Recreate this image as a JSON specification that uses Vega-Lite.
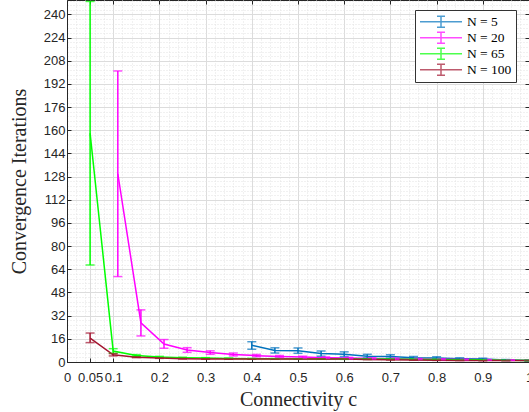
{
  "$schema": "https://vega.github.io/schema/vega-lite/v6.json",
  "width": 462,
  "height": 362,
  "autosize": "none",
  "padding": {"left": 67, "top": 0, "right": 0, "bottom": 50},
  "background": "white",
  "config": {
    "view": {"stroke": "#262626", "strokeWidth": 1},
    "axis": {"labelFont": "Liberation Sans", "labelFontSize": 13, "labelColor": "#262626", "titleColor": "#262626", "titleFont": "Liberation Serif", "titleFontWeight": "normal", "titleFontSize": 20, "domainColor": "#262626", "tickColor": "#262626"}
  },
  "data": {
    "values": [
      {"series": "N = 5", "c": 0.4, "iter": 11.5, "lo": 8.8, "hi": 14},
      {"series": "N = 5", "c": 0.45, "iter": 8, "lo": 6.2, "hi": 9.8},
      {"series": "N = 5", "c": 0.5, "iter": 7.8, "lo": 6, "hi": 9.7},
      {"series": "N = 5", "c": 0.55, "iter": 5.8, "lo": 4, "hi": 7.6},
      {"series": "N = 5", "c": 0.6, "iter": 5.4, "lo": 3.8, "hi": 7},
      {"series": "N = 5", "c": 0.65, "iter": 4, "lo": 2.7, "hi": 5.3},
      {"series": "N = 5", "c": 0.7, "iter": 3.8, "lo": 2.6, "hi": 5},
      {"series": "N = 5", "c": 0.75, "iter": 3, "lo": 2.2, "hi": 3.8},
      {"series": "N = 5", "c": 0.8, "iter": 2.8, "lo": 2, "hi": 3.6},
      {"series": "N = 5", "c": 0.85, "iter": 2.3, "lo": 1.7, "hi": 2.9},
      {"series": "N = 5", "c": 0.9, "iter": 2, "lo": 1.4, "hi": 2.6},
      {"series": "N = 5", "c": 0.95, "iter": 1.4, "lo": 1.1, "hi": 1.7},
      {"series": "N = 5", "c": 1, "iter": 1, "lo": 1, "hi": 1},
      {"series": "N = 20", "c": 0.11, "iter": 130, "lo": 59, "hi": 201},
      {"series": "N = 20", "c": 0.16, "iter": 27, "lo": 18, "hi": 36},
      {"series": "N = 20", "c": 0.21, "iter": 12.4, "lo": 9.5, "hi": 15.5},
      {"series": "N = 20", "c": 0.26, "iter": 8.3, "lo": 6.7, "hi": 9.9},
      {"series": "N = 20", "c": 0.31, "iter": 6.5, "lo": 5.3, "hi": 7.7},
      {"series": "N = 20", "c": 0.36, "iter": 5.2, "lo": 4.2, "hi": 6.2},
      {"series": "N = 20", "c": 0.41, "iter": 4.4, "lo": 3.6, "hi": 5.2},
      {"series": "N = 20", "c": 0.46, "iter": 3.8, "lo": 3.1, "hi": 4.5},
      {"series": "N = 20", "c": 0.51, "iter": 3.4, "lo": 2.8, "hi": 4},
      {"series": "N = 20", "c": 0.56, "iter": 3, "lo": 2.5, "hi": 3.5},
      {"series": "N = 20", "c": 0.61, "iter": 2.7, "lo": 2.2, "hi": 3.2},
      {"series": "N = 20", "c": 0.66, "iter": 2.5, "lo": 2.1, "hi": 2.9},
      {"series": "N = 20", "c": 0.71, "iter": 2.3, "lo": 1.9, "hi": 2.7},
      {"series": "N = 20", "c": 0.76, "iter": 2.1, "lo": 1.8, "hi": 2.4},
      {"series": "N = 20", "c": 0.81, "iter": 1.9, "lo": 1.6, "hi": 2.2},
      {"series": "N = 20", "c": 0.86, "iter": 1.7, "lo": 1.5, "hi": 1.9},
      {"series": "N = 20", "c": 0.91, "iter": 1.5, "lo": 1.3, "hi": 1.7},
      {"series": "N = 20", "c": 0.96, "iter": 1.3, "lo": 1.1, "hi": 1.5},
      {"series": "N = 65", "c": 0.05, "iter": 158, "lo": 67, "hi": 249},
      {"series": "N = 65", "c": 0.1, "iter": 7.6, "lo": 6, "hi": 9.2},
      {"series": "N = 65", "c": 0.15, "iter": 4.5, "lo": 3.9, "hi": 5.1},
      {"series": "N = 65", "c": 0.2, "iter": 3.5, "lo": 3.1, "hi": 3.9},
      {"series": "N = 65", "c": 0.25, "iter": 3, "lo": 2.7, "hi": 3.3},
      {"series": "N = 65", "c": 0.3, "iter": 2.7, "lo": 2.4, "hi": 3},
      {"series": "N = 65", "c": 0.35, "iter": 2.5, "lo": 2.2, "hi": 2.8},
      {"series": "N = 65", "c": 0.4, "iter": 2.3, "lo": 2.1, "hi": 2.5},
      {"series": "N = 65", "c": 0.45, "iter": 2.2, "lo": 2, "hi": 2.4},
      {"series": "N = 65", "c": 0.5, "iter": 2.1, "lo": 1.9, "hi": 2.3},
      {"series": "N = 65", "c": 0.55, "iter": 2.05, "lo": 1.9, "hi": 2.2},
      {"series": "N = 65", "c": 0.6, "iter": 2, "lo": 1.85, "hi": 2.15},
      {"series": "N = 65", "c": 0.65, "iter": 2, "lo": 1.85, "hi": 2.15},
      {"series": "N = 65", "c": 0.7, "iter": 2, "lo": 1.85, "hi": 2.15},
      {"series": "N = 65", "c": 0.75, "iter": 1.9, "lo": 1.8, "hi": 2},
      {"series": "N = 65", "c": 0.8, "iter": 1.8, "lo": 1.7, "hi": 1.9},
      {"series": "N = 65", "c": 0.85, "iter": 1.6, "lo": 1.5, "hi": 1.7},
      {"series": "N = 65", "c": 0.9, "iter": 1.5, "lo": 1.4, "hi": 1.6},
      {"series": "N = 65", "c": 0.95, "iter": 1.2, "lo": 1.1, "hi": 1.3},
      {"series": "N = 65", "c": 1, "iter": 1, "lo": 1, "hi": 1},
      {"series": "N = 100", "c": 0.05, "iter": 16.5, "lo": 13.4, "hi": 20},
      {"series": "N = 100", "c": 0.1, "iter": 5, "lo": 4.2, "hi": 5.8},
      {"series": "N = 100", "c": 0.15, "iter": 3.3, "lo": 3, "hi": 3.6},
      {"series": "N = 100", "c": 0.2, "iter": 2.7, "lo": 2.5, "hi": 2.9},
      {"series": "N = 100", "c": 0.25, "iter": 2.3, "lo": 2.1, "hi": 2.5},
      {"series": "N = 100", "c": 0.3, "iter": 2.1, "lo": 2, "hi": 2.2},
      {"series": "N = 100", "c": 0.35, "iter": 2, "lo": 1.9, "hi": 2.1},
      {"series": "N = 100", "c": 0.4, "iter": 2, "lo": 1.9, "hi": 2.1},
      {"series": "N = 100", "c": 0.45, "iter": 2, "lo": 1.9, "hi": 2.1},
      {"series": "N = 100", "c": 0.5, "iter": 2, "lo": 1.9, "hi": 2.1},
      {"series": "N = 100", "c": 0.55, "iter": 2, "lo": 1.9, "hi": 2.1},
      {"series": "N = 100", "c": 0.6, "iter": 2, "lo": 1.9, "hi": 2.1},
      {"series": "N = 100", "c": 0.65, "iter": 1.8, "lo": 1.7, "hi": 1.9},
      {"series": "N = 100", "c": 0.7, "iter": 1.6, "lo": 1.5, "hi": 1.7},
      {"series": "N = 100", "c": 0.75, "iter": 1.4, "lo": 1.3, "hi": 1.5},
      {"series": "N = 100", "c": 0.8, "iter": 1.2, "lo": 1.1, "hi": 1.3},
      {"series": "N = 100", "c": 0.85, "iter": 1.1, "lo": 1, "hi": 1.2},
      {"series": "N = 100", "c": 0.9, "iter": 1, "lo": 1, "hi": 1},
      {"series": "N = 100", "c": 0.95, "iter": 1, "lo": 1, "hi": 1},
      {"series": "N = 100", "c": 1, "iter": 1, "lo": 1, "hi": 1}
    ]
  },
  "layer": [
    {
      "mark": {"type": "line", "strokeWidth": 1.5},
      "encoding": {
        "x": {
          "field": "c", "type": "quantitative",
          "scale": {"domain": [0, 1], "nice": false, "zero": false},
          "axis": {
            "orient": "bottom",
            "title": "Connectivity c",
            "titlePadding": 1,
            "values": [0,0.02,0.04,0.05,0.06,0.08,0.1,0.12,0.14,0.16,0.18,0.2,0.22,0.24,0.26,0.28,0.3,0.32,0.34,0.36,0.38,0.4,0.42,0.44,0.46,0.48,0.5,0.52,0.54,0.56,0.58,0.6,0.62,0.64,0.66,0.68,0.7,0.72,0.74,0.76,0.78,0.8,0.82,0.84,0.86,0.88,0.9,0.92,0.94,0.96,0.98,1],
            "labelExpr": "indexof([0,0.05,0.1,0.2,0.3,0.4,0.5,0.6,0.7,0.8,0.9,1], datum.value) >= 0 ? '' + datum.value : ''",
            "labelOverlap": false,
            "labelFlush": false,
            "labelBound": false,
            "labelPadding": 13,
            "tickSize": {"condition": {"test": "indexof([0,0.05,0.1,0.2,0.3,0.4,0.5,0.6,0.7,0.8,0.9,1], datum.value) >= 0", "value": -4}, "value": 0},
            "grid": true,
            "gridWidth": 1,
            "gridColor": {"condition": {"test": "indexof([0,0.05,0.1,0.2,0.3,0.4,0.5,0.6,0.7,0.8,0.9,1], datum.value) >= 0", "value": "#dcdcdc"}, "value": "#e2e2e2"},
            "gridDash": {"condition": {"test": "indexof([0,0.05,0.1,0.2,0.3,0.4,0.5,0.6,0.7,0.8,0.9,1], datum.value) >= 0", "value": []}, "value": [1, 2]}
          }
        },
        "y": {
          "field": "iter", "type": "quantitative",
          "scale": {"domain": [0, 250], "nice": false},
          "axis": {
            "orient": "left",
            "title": "Convergence Iterations",
            "titlePadding": 14,
            "values": [0,3.2,6.4,9.6,12.8,16,19.2,22.4,25.6,28.8,32,35.2,38.4,41.6,44.8,48,51.2,54.4,57.6,60.8,64,67.2,70.4,73.6,76.8,80,83.2,86.4,89.6,92.8,96,99.2,102.4,105.6,108.8,112,115.2,118.4,121.6,124.8,128,131.2,134.4,137.6,140.8,144,147.2,150.4,153.6,156.8,160,163.2,166.4,169.6,172.8,176,179.2,182.4,185.6,188.8,192,195.2,198.4,201.6,204.8,208,211.2,214.4,217.6,220.8,224,227.2,230.4,233.6,236.8,240,243.2,246.4,249.6],
            "labelExpr": "datum.value % 16 === 0 ? '' + datum.value : ''",
            "labelOverlap": false,
            "labelFlush": false,
            "labelBound": false,
            "labelPadding": 6,
            "tickSize": {"condition": {"test": "datum.value % 16 === 0", "value": -4}, "value": 0},
            "grid": true,
            "gridWidth": 1,
            "gridColor": {"condition": {"test": "datum.value % 16 === 0", "value": "#dcdcdc"}, "value": "#e2e2e2"},
            "gridDash": {"condition": {"test": "datum.value % 16 === 0", "value": []}, "value": [1, 2]}
          }
        },
        "color": {
          "field": "series", "type": "nominal",
          "scale": {"domain": ["N = 5", "N = 20", "N = 65", "N = 100"], "range": ["#0072BD", "#FF00FF", "#00FF00", "#A2142F"]},
          "legend": {
            "orient": "none", "legendX": 348, "legendY": 10,
            "title": null,
            "symbolType": "M-1,0H6M2.5,-0.92V0.92M1.83,-0.92H3.17M1.83,0.92H3.17",
            "symbolSize": 144,
            "symbolStrokeWidth": 1.5,
            "symbolFillColor": "transparent",
            "labelOffset": 34,
            "labelFont": "Liberation Serif",
            "labelFontSize": 13.5,
            "labelColor": "#000000",
            "clipHeight": 15.7,
            "rowPadding": -1.6,
            "padding": 4,
            "fillColor": "white",
            "strokeColor": "#333333"
          }
        }
      }
    },
    {
      "mark": {"type": "rule", "strokeWidth": 1.5},
      "encoding": {
        "x": {"field": "c", "type": "quantitative", "axis": {"orient": "top", "title": null, "values": [0,0.05,0.1,0.2,0.3,0.4,0.5,0.6,0.7,0.8,0.9,1], "labels": false, "grid": false, "domain": false, "tickSize": -4}},
        "y": {"field": "lo", "type": "quantitative", "axis": {"orient": "right", "title": null, "values": [0,16,32,48,64,80,96,112,128,144,160,176,192,208,224,240], "labels": false, "grid": false, "domain": false, "tickSize": -4}},
        "y2": {"field": "hi"},
        "color": {"field": "series", "type": "nominal"}
      }
    },
    {
      "mark": {"type": "tick", "orient": "horizontal", "size": 9, "thickness": 1.5},
      "encoding": {
        "x": {"field": "c", "type": "quantitative", "axis": null},
        "y": {"field": "lo", "type": "quantitative", "axis": null},
        "color": {"field": "series", "type": "nominal"}
      }
    },
    {
      "mark": {"type": "tick", "orient": "horizontal", "size": 9, "thickness": 1.5},
      "encoding": {
        "x": {"field": "c", "type": "quantitative", "axis": null},
        "y": {"field": "hi", "type": "quantitative", "axis": null},
        "color": {"field": "series", "type": "nominal"}
      }
    }
  ],
  "resolve": {"axis": {"x": "independent", "y": "independent"}}
}
